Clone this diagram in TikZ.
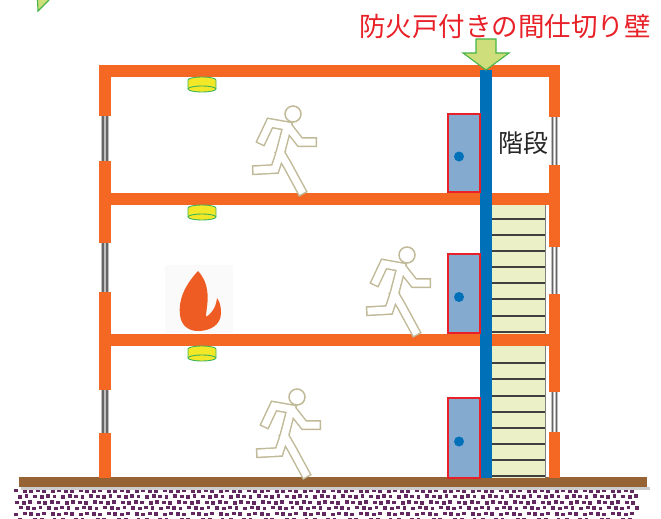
\documentclass[tikz,border=0pt]{standalone}
\usepackage{fontspec}
\newfontfamily\jpfont{Noto Sans CJK JP}
\usetikzlibrary{positioning}
\definecolor{wallor}{RGB}{244,104,36}
\definecolor{partblue}{RGB}{0,112,185}
\definecolor{doorblue}{RGB}{132,170,208}
\definecolor{doorred}{RGB}{232,32,40}
\definecolor{stepfill}{RGB}{236,240,198}
\definecolor{sensory}{RGB}{242,232,40}
\definecolor{sensorg}{RGB}{60,180,90}
\definecolor{earth}{RGB}{150,100,52}
\definecolor{soil}{RGB}{98,40,96}
\definecolor{runner}{RGB}{192,186,152}
\definecolor{flame}{RGB}{238,92,36}
\definecolor{arrowfill}{RGB}{206,222,122}
\definecolor{arrowline}{RGB}{70,180,70}

\begin{document}
\begin{tikzpicture}[x=1pt,y=-1pt,
  wall/.style={fill=wallor},
  glass/.style={line width=#1},
  door/.style={fill=doorblue,draw=doorred,line width=1.4pt},
  sensor/.style={fill=sensory,draw=sensorg,line width=0.9pt},
  greenarrow/.style={fill=arrowfill,draw=arrowline,line width=1.1pt,line join=miter}]
  \useasboundingbox (0,0) rectangle (661,519);
  % ---- ground
  \foreach \j in {0,...,5}
    \foreach \i in {0,...,88}
      \fill[soil] ({14+7*\i+3.5*mod(\j,2)+0.6*mod(\i*3+\j,4)},{488.5+5.8*\j+0.5*mod(\i+2*\j,3)}) rectangle ++(3.9,3.5);
  \fill[black!20] (21,487) rectangle (650,489.5);
  \fill[earth] (19,477) rectangle (647,487);
  % ---- stairs
  \fill[stepfill] (492,205) rectangle (545,478);
  \draw[gray,line width=0.8pt] (545,205) -- (545,478);
  \foreach \y in {219,235,251,267,283,299,316,332,363,379,396,412,428,444,460,476}
    \draw[black!75,line width=1.1pt] (492,\y) -- (545,\y);
  % ---- slabs
  \foreach \t in {65,193,334}
    \fill[wall] (99,\t) rectangle (560,\t+12);
  % ---- outer walls with windows
  \foreach \a/\b in {65/116,161/243,292/390,433/478}
    \fill[wall] (99,\a) rectangle (111,\b);
  \foreach \a/\b in {65/117,165/247,294/392,432/478}
    \fill[wall] (549,\a) rectangle (560,\b);
  \foreach \x/\a/\b in {105/116/161,105/243/292,105/390/433,554.5/117/165,554.5/247/294,554.5/392/432}
    \foreach \lw/\col in {3.4pt/black!25,1.8pt/black!60}
      \draw[glass=\lw,\col] (\x-2,\a) -- (\x-2,\b) (\x+2,\a) -- (\x+2,\b);
  % ---- partition wall and fire doors
  \fill[partblue] (480,70) rectangle (492,478);
  \foreach \a/\b in {114/192,254/333,398/478} {
    \draw[door] (448,\a) rectangle (480,\b);
    \fill[partblue] (459,{(\a+\b)/2+3.5}) circle (5);
  }
  % ---- smoke sensors
  \foreach \y in {77,205,346} {
    \begin{scope}[shift={(202,\y)}]
      \draw[sensor] (-14,3) arc[start angle=180,end angle=360,x radius=14,y radius=3]
        -- (14,12) arc[start angle=0,end angle=180,x radius=14,y radius=3] -- cycle;
      \draw[sensor] (-14,12) arc[start angle=180,end angle=360,x radius=14,y radius=3];
    \end{scope}
  }
  % ---- people running
  \foreach \hx/\hy in {293/114,407/255,297/397} {
    \begin{scope}[shift={(\hx,\hy)}]
      \foreach \lw/\col in {10pt/runner,7pt/white}
        \draw[line width=\lw,\col,line cap=rect]
          (-6,12) -- (-23,9) -- (-31,26)
          (-4,14) -- (7,28) -- (19,28)
          (-6,13) -- (-13,40)
          (-13,40) -- (-18,55) -- (-36,56)
          (-12,40) -- (-5,52) -- (8,76);
      \draw[runner,line width=1.5pt,fill=white] (0,0) circle (8);
    \end{scope}
  }
  % ---- fire
  \fill[black!2] (165,265) rectangle (233,333);
  \fill[flame] (198,271) .. controls (185,285) and (178,300) .. (180,315)
    .. controls (181,325) and (188,331) .. (198,331)
    .. controls (210,331) and (221,325) .. (221,313)
    .. controls (221,307) and (220,302) .. (217,298)
    .. controls (216,308) and (211,314) .. (206,317)
    .. controls (206,310) and (209,300) .. (207,290)
    .. controls (206,282) and (202,275) .. cycle;
  % ---- labels
  \node[font=\jpfont\fontsize{26.5}{26.5}\selectfont,text=doorred,inner sep=0pt] (title) at (505,26) {防火戸付きの間仕切り壁};
  \node[font=\jpfont\fontsize{25}{25}\selectfont,text=black!85,inner sep=0pt] (stairs) at (523,143) {階段};
  \draw[greenarrow] (476,39) -- (496,39) -- (496,53) -- (509,53) -- (486,70) -- (463,53) -- (476,53) -- cycle;
  \fill[arrowfill] (37,0) -- (49,0) -- (38,11) -- cycle;
  \draw[arrowline,line width=1.1pt] (37.5,0) -- (38,11) -- (49,0);
\end{tikzpicture}
\end{document}
